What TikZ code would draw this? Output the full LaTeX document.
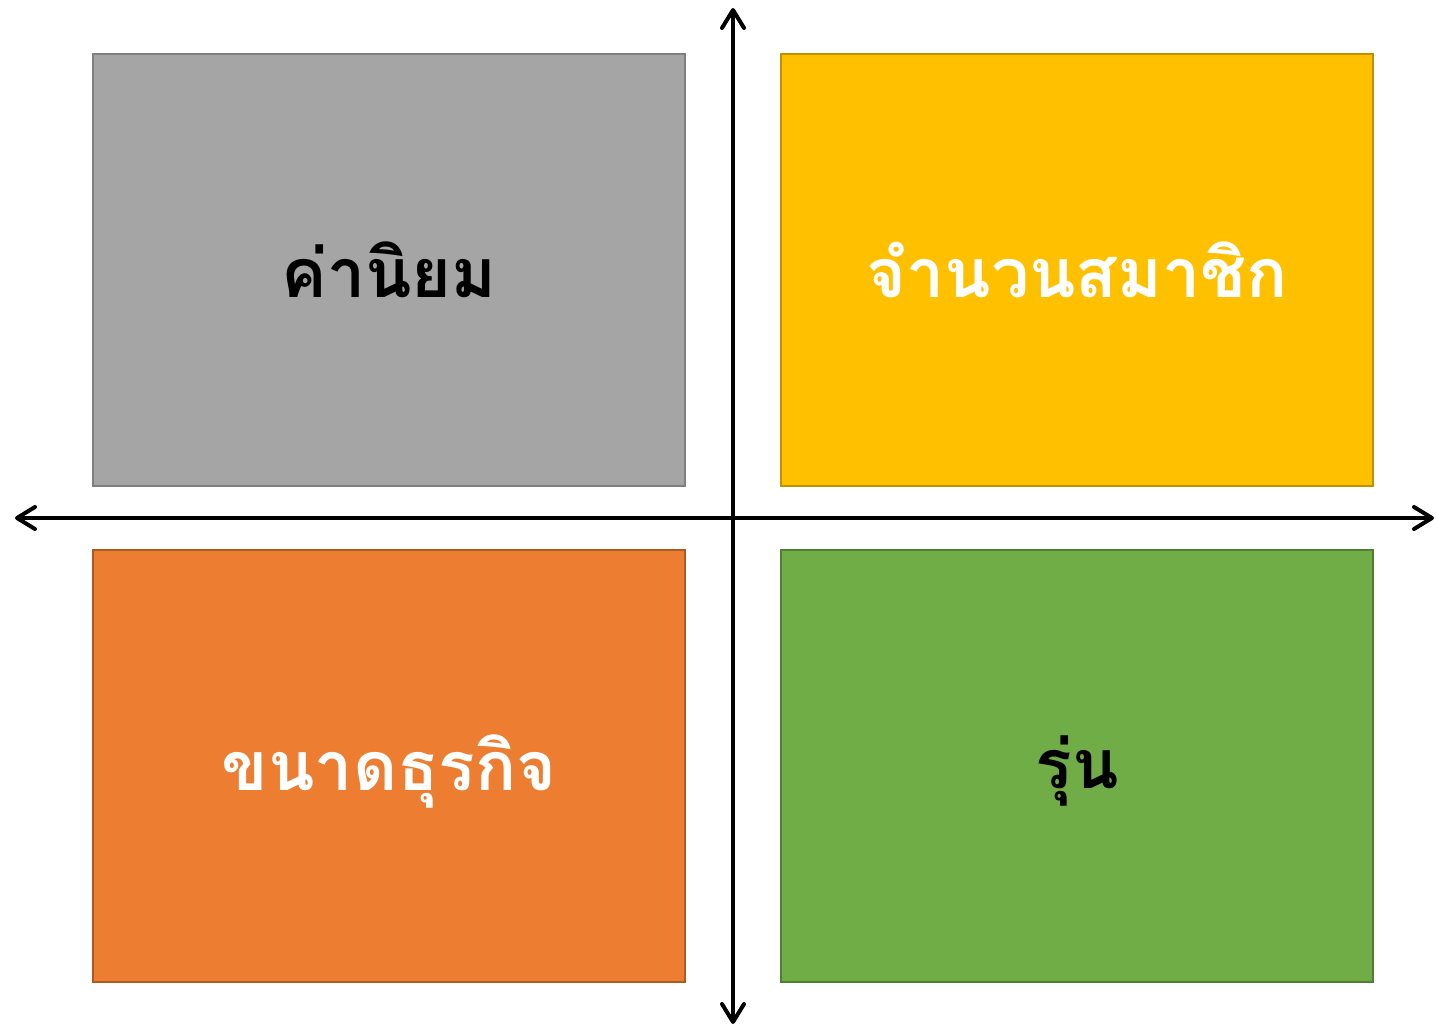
\documentclass[tikz,border=0pt]{standalone}
\usepackage{fontspec}
\newfontfamily\thaifont[Script=Thai]{Loma}
\usetikzlibrary{arrows.meta}
\definecolor{grayfill}{HTML}{A5A5A5}
\definecolor{graydraw}{HTML}{7F7F7F}
\definecolor{yelfill}{HTML}{FFC000}
\definecolor{yeldraw}{HTML}{BF9000}
\definecolor{orafill}{HTML}{ED7D31}
\definecolor{oradraw}{HTML}{AE5A21}
\definecolor{grnfill}{HTML}{70AD47}
\definecolor{grndraw}{HTML}{507E32}
\tikzset{
  quad/.style={line width=1pt, inner sep=0pt},
  lbl/.style={font=\thaifont\bfseries\fontsize{34}{38}\selectfont},
  axis/.style={line width=2pt, line cap=round, {Straight Barb[length=9pt,width=11pt,round]}-{Straight Barb[length=9pt,width=11pt,round]}}
}
\begin{document}
\begin{tikzpicture}[x=0.5pt,y=-0.5pt]
\useasboundingbox (0,0) rectangle (1437,1027);
\draw[quad, fill=grayfill, draw=graydraw] (93,54) rectangle (685,486);
\draw[quad, fill=yelfill, draw=yeldraw] (781,54) rectangle (1373,486);
\draw[quad, fill=orafill, draw=oradraw] (93,550) rectangle (685,982);
\draw[quad, fill=grnfill, draw=grndraw] (781,550) rectangle (1373,982);
\node[lbl, text=black] (q1) at (389,270) {ค่านิยม};
\node[lbl, text=white] (q2) at (1077,270) {จำนวนสมาชิก};
\node[lbl, text=white] (q3) at (389,771) {ขนาดธุรกิจ};
\node[lbl, text=black] (q4) at (1077,771) {รุ่น};
\coordinate (top) at (733,8);
\coordinate (bot) at (733,1024);
\coordinate (lft) at (15,518);
\coordinate (rgt) at (1434,518);
\draw[axis] (top) -- (bot);
\draw[axis] (lft) -- (rgt);
\end{tikzpicture}
\end{document}
